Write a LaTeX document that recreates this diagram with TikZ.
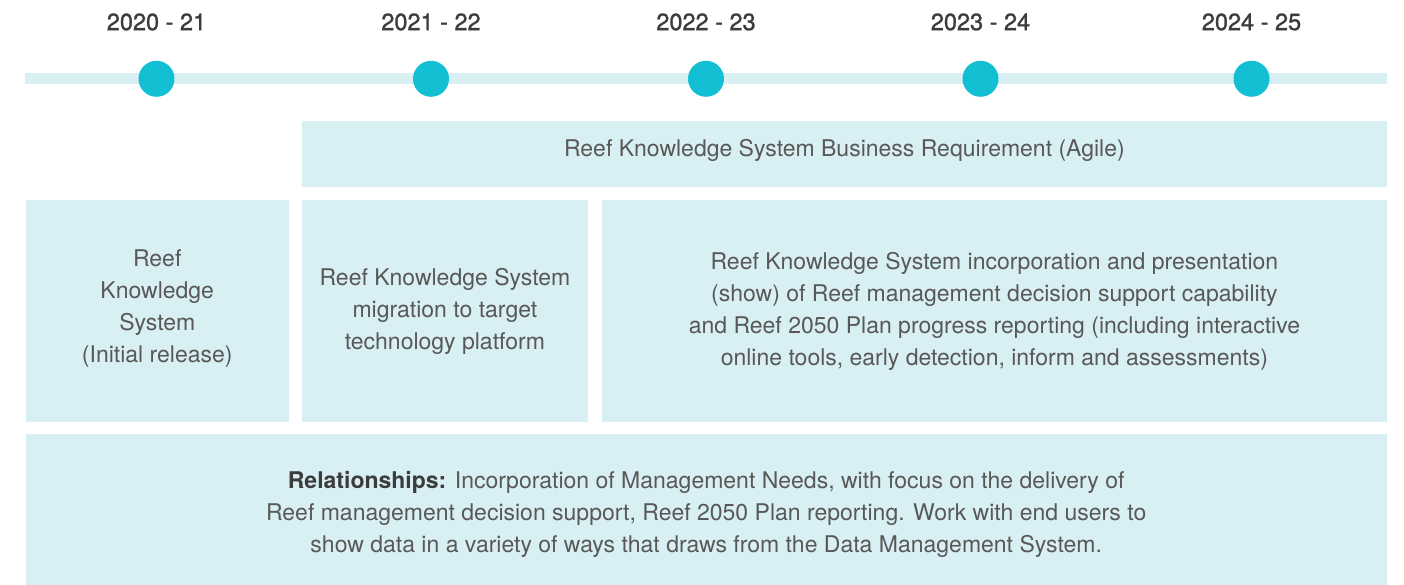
\documentclass[tikz,border=0pt]{standalone}
\usepackage{fontspec}
\setmainfont{TeX Gyre Heros}
\newfontfamily\yearfont[FakeBold=1.2]{TeX Gyre Heros}
\definecolor{boxfill}{HTML}{D8EFF3}
\definecolor{dotcol}{HTML}{12BFD3}
\definecolor{txt}{HTML}{585858}
\definecolor{yeartxt}{HTML}{3C3C3C}
\tikzset{
  box/.style={fill=boxfill, draw=none, inner sep=0pt, anchor=north west, align=center,
              text=txt, font=\fontsize{23}{32}\selectfont},
  dot/.style={circle, fill=dotcol, draw=none, minimum size=36pt, inner sep=0pt},
  year/.style={text=yeartxt, font=\yearfont\fontsize{23.5}{28}\selectfont, inner sep=0pt}
}
\begin{document}
\begin{tikzpicture}[x=1pt,y=-1pt]
\useasboundingbox (0,0) rectangle (1404,585);
% timeline bar
\fill[boxfill] (25,73) rectangle (1387,84.5);
% dots and years
\foreach \n/\x/\lab in {a/156.5/2020 - 21, b/431/2021 - 22, c/706/2022 - 23, d/980.5/2023 - 24, e/1251.5/2024 - 25}{
  \node[dot] (dot\n) at (\x,78.8) {};
  \node[year] (year\n) at (\x,22) {\lab};
}
% boxes
\node[box, minimum width=1085pt, minimum height=65.7pt, text height=17pt, text depth=13pt] (business) at (301.7,121)
  {Reef Knowledge System Business Requirement (Agile)};
\node[box, minimum width=263.5pt, minimum height=221.7pt] (initial) at (25.3,200) {};
\node[box, minimum width=263.5pt, minimum height=221.7pt, fill=none] (initialtext) at (25.3,197)
  {Reef\\Knowledge\\System\\(Initial release)};
\node[box, minimum width=286pt, minimum height=221.7pt] (migration) at (301.7,200)
  {Reef Knowledge System\\migration to target\\technology platform};
\node[box, minimum width=785pt, minimum height=221.7pt] (incorp) at (601.7,200)
  {Reef Knowledge System incorporation and presentation\\(show) of Reef management decision support capability\\and Reef 2050 Plan progress reporting (including interactive\\online tools, early detection, inform and assessments)};
\node[box, minimum width=1361.4pt, minimum height=161pt] (relations) at (25.3,434)
  {\textbf{\color{yeartxt}Relationships:} Incorporation of Management Needs, with focus on the delivery of\\Reef management decision support, Reef 2050 Plan reporting. Work with end users to\\show data in a variety of ways that draws from the Data Management System.};
\end{tikzpicture}
\end{document}
